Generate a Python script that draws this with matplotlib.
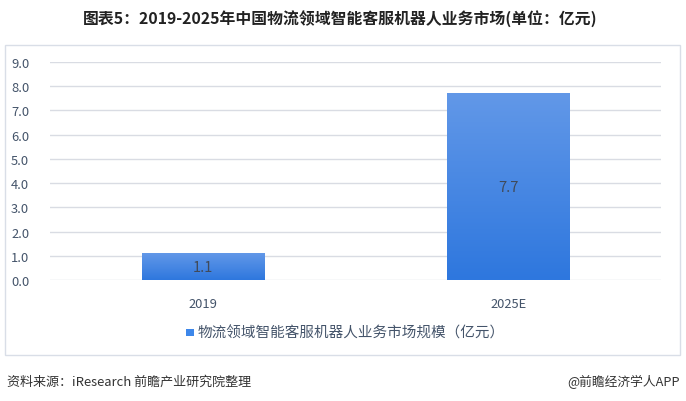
import numpy as np
import matplotlib
matplotlib.use("Agg")
import matplotlib.pyplot as plt
from matplotlib.patches import Rectangle

plt.rcParams['font.family'] = ['Noto Sans CJK SC', 'DejaVu Sans']

categories = ["2019", "2025E"]
values = [1.1, 7.7]
yticks = [0.0, 1.0, 2.0, 3.0, 4.0, 5.0, 6.0, 7.0, 8.0, 9.0]
title = "图表5：2019-2025年中国物流领域智能客服机器人业务市场(单位：亿元)"
legend_label = "物流领域智能客服机器人业务市场规模（亿元）"
source_text = "资料来源：iResearch 前瞻产业研究院整理"
brand_text = "@前瞻经济学人APP"

W, H = 686, 402
fig = plt.figure(figsize=(W / 100, H / 100), dpi=100)
fig.patch.set_facecolor("white")

# outer panel frame
fig.patches.append(Rectangle((5 / W, 1 - 356 / H), 675 / W, 310 / H,
                             transform=fig.transFigure, fill=False,
                             edgecolor="#D9DEE7", linewidth=1.0))

ax = fig.add_axes([50 / W, 1 - 281 / H, 611 / W, 218 / H])
ax.set_xlim(-0.5, 1.5)
ax.set_ylim(0, 9)
for s in ax.spines.values():
    s.set_visible(False)
ax.set_yticks(yticks)
ax.set_yticklabels([f"{v:.1f}" for v in yticks], fontsize=9.3, color="#44546A")
ax.set_xticks(range(len(categories)))
ax.set_xticklabels(categories, fontsize=9.3, color="#44546A")
ax.tick_params(axis="both", length=0)
ax.tick_params(axis="y", pad=15)
ax.tick_params(axis="x", pad=12)
ax.grid(axis="y", color="#D9DCE3", linewidth=1.0)
ax.set_axisbelow(True)

# vertical gradient fill for bars (light at top, deeper at bottom)
top_c = np.array([0x62, 0x98, 0xE8]) / 255
bot_c = np.array([0x2E, 0x77, 0xDE]) / 255
t = np.linspace(0, 1, 256)[:, None]
grad = (bot_c[None, :] * (1 - t) + top_c[None, :] * t)[:, None, :]

bars = ax.bar(range(len(categories)), values, width=0.4, color="#3D87EA",
              zorder=2, label=legend_label)
for rect, v in zip(bars, values):
    x0, w = rect.get_x(), rect.get_width()
    im = ax.imshow(grad, extent=[x0, x0 + w, 0, v], origin="lower",
                   aspect="auto", zorder=3, interpolation="bilinear")
    im.set_clip_path(rect)
    ax.text(x0 + w / 2, v / 2, f"{v}", ha="center", va="center",
            fontsize=10.5, color="#404A5A", zorder=4)
ax.set_xlim(-0.5, 1.5)
ax.set_ylim(0, 9)

# legend
fig.patches.append(Rectangle((186 / W, 1 - 337 / H), 7.5 / W, 7.5 / H,
                             transform=fig.transFigure, facecolor="#3D87EA",
                             edgecolor="none"))
fig.text(198 / W, 1 - 333 / H, legend_label, fontsize=10.5, color="#44546A",
         ha="left", va="center")

fig.text(340 / W, 1 - 20 / H, title, fontsize=11.4, fontweight="bold",
         color="#222222", ha="center", va="center")
fig.text(7 / W, 1 - 382 / H, source_text, fontsize=9.4, color="#333333",
         ha="left", va="center")
fig.text(680 / W, 1 - 382 / H, brand_text, fontsize=9.2, color="#333333",
         ha="right", va="center")

fig.savefig("out.png", dpi=100, facecolor="white")
